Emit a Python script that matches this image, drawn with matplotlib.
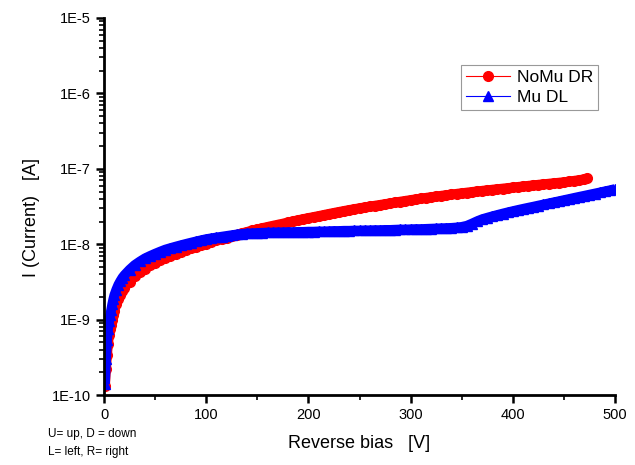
import numpy as np
import matplotlib
matplotlib.use("Agg")
import matplotlib.pyplot as plt
from matplotlib.lines import Line2D
from matplotlib.ticker import LogLocator, FuncFormatter, MultipleLocator, NullFormatter

plt.rcParams['font.family'] = ['Liberation Sans', 'DejaVu Sans']

# reverse bias sweep points [V]
v_low = [1, 2, 3, 4, 5, 6, 7, 8, 9, 10, 12, 14, 16, 18, 20]
v_nomu = v_low + list(range(25, 475, 5)) + [473]
v_mu = v_low + list(range(25, 505, 5))

# NoMu DR current [A]
i_nomu = [1.3e-10, 2.2e-10, 3.4e-10, 4.8e-10, 6.2e-10, 7.4e-10, 8.6e-10, 1.0e-9,
          1.15e-9, 1.3e-9, 1.6e-9, 1.9e-9, 2.15e-9, 2.4e-9, 2.65e-9,
          3.2e-9, 3.75e-9, 4.25e-9, 4.75e-9, 5.25e-9, 5.7e-9, 6.15e-9, 6.6e-9,
          7.05e-9, 7.5e-9, 7.95e-9, 8.4e-9, 8.85e-9, 9.3e-9, 9.75e-9, 1.02e-8,
          1.07e-8, 1.12e-8, 1.17e-8, 1.22e-8, 1.28e-8, 1.34e-8, 1.40e-8, 1.46e-8,
          1.52e-8, 1.58e-8, 1.64e-8, 1.70e-8, 1.76e-8, 1.82e-8, 1.88e-8, 1.95e-8,
          2.02e-8, 2.09e-8, 2.16e-8, 2.23e-8, 2.30e-8, 2.37e-8, 2.45e-8, 2.53e-8,
          2.61e-8, 2.69e-8, 2.77e-8, 2.85e-8, 2.93e-8, 3.01e-8, 3.09e-8, 3.17e-8,
          3.25e-8, 3.33e-8, 3.41e-8, 3.50e-8, 3.59e-8, 3.68e-8, 3.77e-8, 3.86e-8,
          3.95e-8, 4.04e-8, 4.13e-8, 4.22e-8, 4.31e-8, 4.40e-8, 4.49e-8, 4.58e-8,
          4.67e-8, 4.76e-8, 4.85e-8, 4.94e-8, 5.03e-8, 5.12e-8, 5.21e-8, 5.30e-8,
          5.39e-8, 5.48e-8, 5.57e-8, 5.66e-8, 5.76e-8, 5.86e-8, 5.96e-8, 6.06e-8,
          6.16e-8, 6.26e-8, 6.36e-8, 6.46e-8, 6.56e-8, 6.66e-8, 6.80e-8, 6.95e-8,
          7.10e-8, 7.30e-8, 7.45e-8]

# Mu DL current [A]
i_mu = [1.4e-10, 3.0e-10, 5.4e-10, 7.5e-10, 9.5e-10, 1.15e-9, 1.35e-9, 1.6e-9,
        1.85e-9, 2.1e-9, 2.5e-9, 2.9e-9, 3.25e-9, 3.6e-9, 3.9e-9,
        4.6e-9, 5.3e-9, 5.9e-9, 6.5e-9, 7.0e-9, 7.5e-9, 8.0e-9, 8.5e-9,
        8.9e-9, 9.3e-9, 9.7e-9, 1.01e-8, 1.05e-8, 1.09e-8, 1.13e-8, 1.17e-8,
        1.20e-8, 1.23e-8, 1.26e-8, 1.29e-8, 1.32e-8, 1.35e-8, 1.37e-8, 1.39e-8,
        1.40e-8, 1.41e-8, 1.42e-8, 1.43e-8, 1.43e-8, 1.44e-8, 1.44e-8, 1.45e-8,
        1.45e-8, 1.46e-8, 1.46e-8, 1.47e-8, 1.47e-8, 1.48e-8, 1.48e-8, 1.49e-8,
        1.50e-8, 1.50e-8, 1.51e-8, 1.51e-8, 1.52e-8, 1.52e-8, 1.53e-8, 1.53e-8,
        1.54e-8, 1.54e-8, 1.55e-8, 1.55e-8, 1.56e-8, 1.57e-8, 1.57e-8, 1.58e-8,
        1.59e-8, 1.59e-8, 1.60e-8, 1.61e-8, 1.62e-8, 1.63e-8, 1.64e-8, 1.65e-8,
        1.67e-8, 1.70e-8, 1.76e-8, 1.88e-8, 2.02e-8, 2.15e-8, 2.25e-8, 2.35e-8,
        2.45e-8, 2.55e-8, 2.65e-8, 2.75e-8, 2.85e-8, 2.95e-8, 3.05e-8, 3.15e-8,
        3.26e-8, 3.37e-8, 3.48e-8, 3.60e-8, 3.72e-8, 3.85e-8, 3.98e-8, 4.12e-8,
        4.26e-8, 4.40e-8, 4.55e-8, 4.70e-8, 4.86e-8, 5.03e-8, 5.20e-8, 5.40e-8]

red = '#ff0000'
blue = '#0000ff'

fig = plt.figure(figsize=(6.35, 4.65), dpi=100)
ax = fig.add_axes([0.1638, 0.1505, 0.8047, 0.8108])

# dense sweeps: markers joined by a thick line give the solid band
ax.plot(v_nomu, i_nomu, '-o', color=red, ms=7, mec=red, lw=7,
        solid_capstyle='round', solid_joinstyle='round')
ax.plot(v_mu, i_mu, '-^', color=blue, ms=7, mec=blue, lw=7,
        solid_capstyle='butt', solid_joinstyle='round')

ax.set_yscale('log')
ax.set_xlim(0, 500)
ax.set_ylim(1e-10, 1e-5)

for side in ['top', 'right']:
    ax.spines[side].set_visible(False)
for side in ['left', 'bottom']:
    ax.spines[side].set_linewidth(2)

ax.xaxis.set_major_locator(MultipleLocator(100))
ax.xaxis.set_minor_locator(MultipleLocator(50))
ax.yaxis.set_major_locator(LogLocator(base=10, numticks=10))
ax.yaxis.set_minor_locator(LogLocator(base=10, subs=np.arange(2, 10), numticks=20))
ax.yaxis.set_major_formatter(FuncFormatter(lambda y, p: '1E%d' % round(np.log10(y))))
ax.yaxis.set_minor_formatter(NullFormatter())

ax.tick_params(which='major', direction='out', length=6, width=1.8, labelsize=10.5)
ax.tick_params(which='minor', direction='out', length=3.5, width=1.2)

ax.set_xlabel('Reverse bias   [V]', fontsize=13, labelpad=9)
ax.set_ylabel('I (Current)   [A]', fontsize=13, labelpad=8)
ax.yaxis.set_label_coords(-0.125, 0.47)

handles = [Line2D([], [], color=red, marker='o', lw=0.8, ms=7),
           Line2D([], [], color=blue, marker='^', lw=0.8, ms=7)]
leg = ax.legend(handles, ['NoMu DR', 'Mu DL'], loc='upper right',
                bbox_to_anchor=(0.942, 0.860), bbox_transform=fig.transFigure,
                fontsize=12.5, fancybox=False, framealpha=1,
                edgecolor='#999999', handlelength=2.5, borderpad=0.3,
                labelspacing=0.25, handletextpad=0.4, borderaxespad=0)
leg.get_frame().set_linewidth(0.8)

fig.text(0.0756, 0.066, 'U= up, D = down', fontsize=8.5, va='center')
fig.text(0.0756, 0.029, 'L= left, R= right', fontsize=8.5, va='center')

fig.savefig('out.png', dpi=100)
